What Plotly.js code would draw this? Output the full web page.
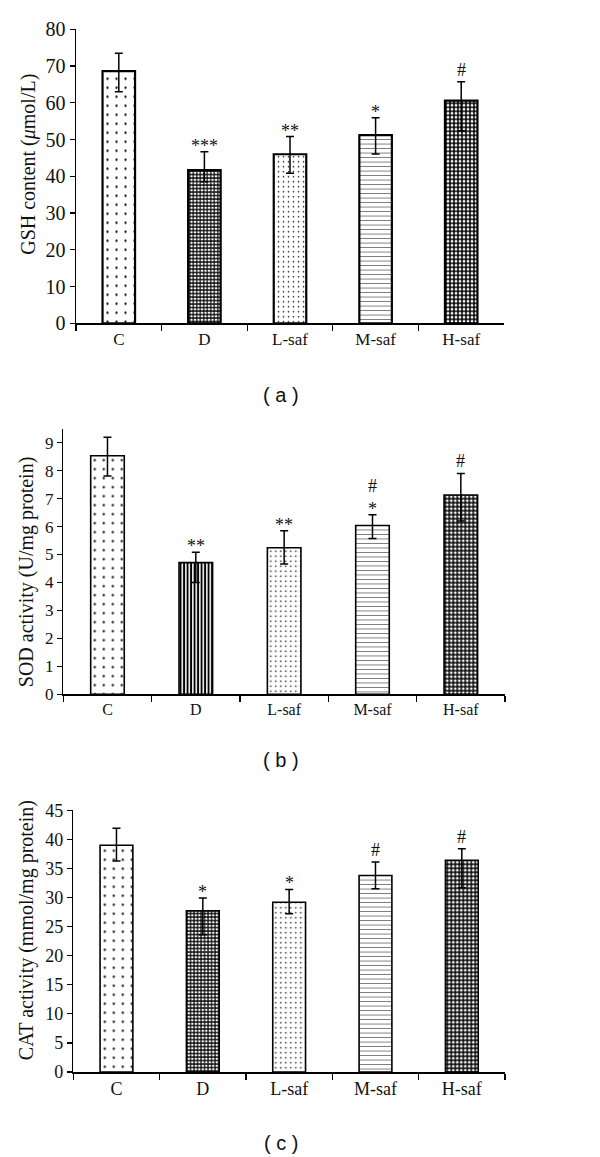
<!DOCTYPE html>
<html>
<head>
<meta charset="utf-8">
<script src="https://cdn.plot.ly/plotly-3.0.1.min.js"></script>
<style>html,body{margin:0;padding:0;background:#fff;}#chart{width:600px;height:1157px;}</style>
</head>
<body>
<div id="chart"></div>
<script>
// ---- data ----
var categories = ['C', 'D', 'L-saf', 'M-saf', 'H-saf'];

var gshMean      = [68.6, 41.7, 46.0, 51.2, 60.6];
var gshErrPlus   = [4.9, 5.0, 4.8, 4.7, 5.1];
var gshErrMinus  = [5.6, 3.2, 5.2, 5.1, 8.2];
var gshSig       = ['', '***', '**', '*', '#'];

var sodMean      = [8.53, 4.71, 5.24, 6.04, 7.13];
var sodErrPlus   = [0.66, 0.37, 0.61, 0.38, 0.77];
var sodErrMinus  = [0.72, 0.71, 0.58, 0.47, 0.93];
var sodSig       = ['', '**', '**', '#<br>*', '#'];

var catMean      = [39.0, 27.7, 29.2, 33.8, 36.4];
var catErrPlus   = [2.9, 2.2, 2.2, 2.3, 2.0];
var catErrMinus  = [2.7, 4.1, 2.0, 2.3, 4.7];
var catSig       = ['', '*', '*', '#', '#'];

var yTitles = ['GSH content (<i>\u03bc</i>mol/L)', 'SOD activity (U/mg protein)', 'CAT activity (mmol/mg protein)'];
var panelLabels = ['( a )', '( b )', '( c )'];

// ---- styling ----
var serif = 'Liberation Serif, Times New Roman, serif';
var patternsA = [
  {shape: '.', size: 9, solidity: 0.05, fgcolor: '#000', bgcolor: '#fff'},
  {shape: '+', size: 3.5, solidity: 0.55, fgcolor: '#000', bgcolor: '#fff'},
  {shape: '.', size: 5, solidity: 0.08, fgcolor: '#000', bgcolor: '#fff'},
  {shape: '-', size: 4.5, solidity: 0.2, fgcolor: '#777', bgcolor: '#fff'},
  {shape: '+', size: 4, solidity: 0.6, fgcolor: '#000', bgcolor: '#fff'}
];
var patternsB = [
  {shape: '.', size: 9, solidity: 0.05, fgcolor: '#000', bgcolor: '#fff'},
  {shape: '|', size: 3.5, solidity: 0.55, fgcolor: '#000', bgcolor: '#fff'},
  {shape: '.', size: 5, solidity: 0.08, fgcolor: '#000', bgcolor: '#fff'},
  {shape: '-', size: 4.5, solidity: 0.2, fgcolor: '#777', bgcolor: '#fff'},
  {shape: '+', size: 4, solidity: 0.6, fgcolor: '#000', bgcolor: '#fff'}
];

function barTraces(mean, ep, em, pats, xa, ya, lw) {
  var out = [];
  for (var i = 0; i < categories.length; i++) {
    out.push({
      type: 'bar',
      x: [categories[i]],
      y: [mean[i]],
      xaxis: xa, yaxis: ya,
      width: 0.38,
      marker: {color: '#fff', line: {color: '#000', width: lw}, pattern: pats[i]},
      error_y: {type: 'data', symmetric: false, array: [ep[i]], arrayminus: [em[i]],
                color: '#000', thickness: 1.5, width: 4},
      showlegend: false,
      hoverinfo: 'x+y'
    });
  }
  return out;
}

var data = []
  .concat(barTraces(gshMean, gshErrPlus, gshErrMinus, patternsA, 'x', 'y', 2.2))
  .concat(barTraces(sodMean, sodErrPlus, sodErrMinus, patternsB, 'x2', 'y2', 1.6))
  .concat(barTraces(catMean, catErrPlus, catErrMinus, patternsA, 'x3', 'y3', 1.6));

function xAxis(dom, anchor, fs) {
  return {
    domain: dom, anchor: anchor, type: 'category',
    categoryorder: 'array', categoryarray: categories,
    range: [-0.5, 4.5], tickson: 'boundaries',
    ticks: 'outside', ticklen: 6, tickwidth: 1.2, tickcolor: '#000',
    showline: true, linecolor: '#000', linewidth: 1.5,
    showgrid: false, zeroline: false, fixedrange: true,
    tickfont: {family: serif, size: fs, color: '#111'}
  };
}
function yAxis(dom, anchor, range, dtick, fs) {
  return {
    domain: dom, anchor: anchor, range: range, dtick: dtick, tick0: 0,
    ticks: 'outside', ticklen: 5, tickwidth: 1.2, tickcolor: '#000',
    showline: true, linecolor: '#000', linewidth: 1.5,
    showgrid: false, zeroline: false, fixedrange: true,
    tickfont: {family: serif, size: fs, color: '#111'}
  };
}

var annotations = [];
function addSig(sig, mean, ep, xr, yr) {
  for (var i = 0; i < categories.length; i++) {
    if (!sig[i]) continue;
    var endsHash = sig[i].charAt(sig[i].length - 1) === '#';
    annotations.push({
      xref: xr, yref: yr, x: categories[i], y: mean[i] + ep[i],
      text: sig[i], showarrow: false, yanchor: 'bottom', yshift: endsHash ? 0 : -6,
      font: {family: serif, size: 18, color: '#111'}
    });
  }
}
addSig(gshSig, gshMean, gshErrPlus, 'x', 'y');
addSig(sodSig, sodMean, sodErrPlus, 'x2', 'y2');
addSig(catSig, catMean, catErrPlus, 'x3', 'y3');

// y-axis titles (rotated), positioned as in the reference
var titleX = [28.3 / 600, 26.7 / 600, 26.7 / 600];
var titleY = [1 - 164.5 / 1157, 1 - 571.5 / 1157, 1 - 930.5 / 1157];
for (var t = 0; t < 3; t++) {
  annotations.push({
    xref: 'paper', yref: 'paper', x: titleX[t], y: titleY[t],
    text: yTitles[t], showarrow: false, textangle: -90,
    xanchor: 'center', yanchor: 'middle',
    font: {family: serif, size: 20, color: '#111'}
  });
}

var labelY = [1 - 395 / 1157, 1 - 760 / 1157, 1 - 1143 / 1157];
for (var k = 0; k < 3; k++) {
  annotations.push({
    xref: 'paper', yref: 'paper', x: 281 / 600, y: labelY[k],
    text: panelLabels[k], showarrow: false, xanchor: 'center', yanchor: 'middle',
    font: {family: 'Liberation Sans, Arial, sans-serif', size: 20, color: '#111'}
  });
}

var layout = {
  width: 600, height: 1157,
  margin: {l: 0, r: 0, t: 0, b: 0},
  paper_bgcolor: '#fff', plot_bgcolor: 'rgba(0,0,0,0)',
  showlegend: false, barmode: 'overlay',
  xaxis:  xAxis([76 / 600, 504 / 600], 'y', 17),
  yaxis:  yAxis([1 - 323.3 / 1157, 1 - 29.3 / 1157], 'x', [0, 80], 10, 20),
  xaxis2: xAxis([63.3 / 600, 505 / 600], 'y2', 16),
  yaxis2: yAxis([1 - 694.3 / 1157, 1 - 428.7 / 1157], 'x2', [0, 9.5], 1, 17),
  xaxis3: xAxis([73.3 / 600, 505 / 600], 'y3', 18),
  yaxis3: yAxis([1 - 1072 / 1157, 1 - 810.3 / 1157], 'x3', [0, 45], 5, 18),
  annotations: annotations
};

Plotly.newPlot('chart', data, layout, {staticPlot: true, displayModeBar: false});
</script>
</body>
</html>
